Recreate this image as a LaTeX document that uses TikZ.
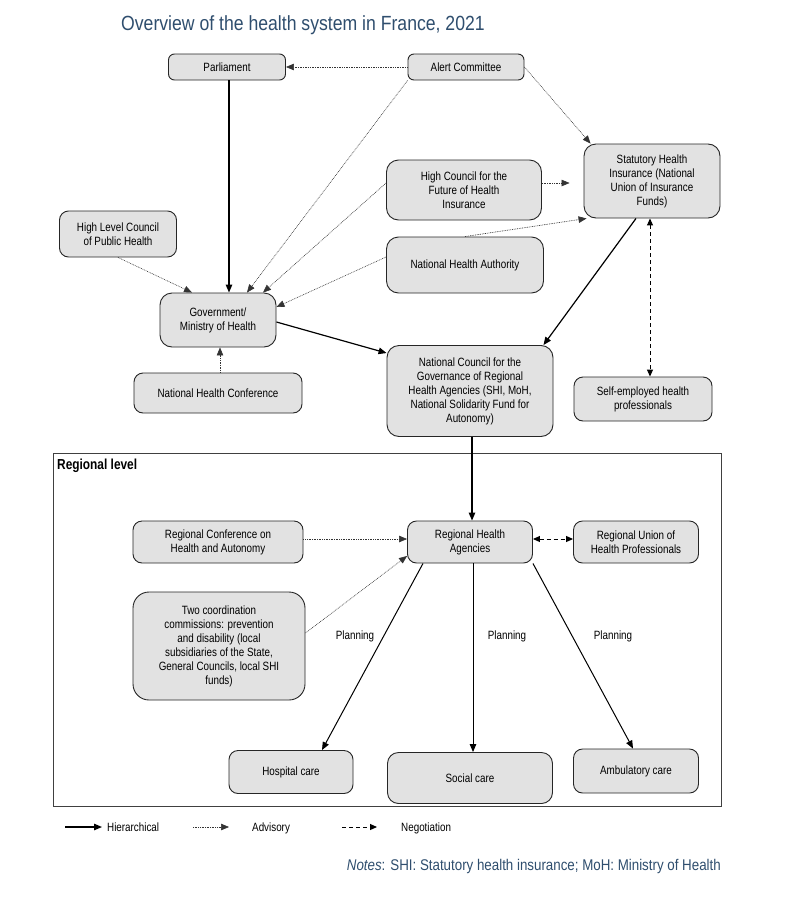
\documentclass[tikz,border=0pt]{standalone}
\usepackage{fontspec}
\setmainfont{Liberation Sans}[FakeStretch=0.82]
\newfontfamily\titlefont{Liberation Sans}[FakeStretch=0.86]
\usetikzlibrary{arrows.meta,calc}
\definecolor{boxfill}{HTML}{E2E2E2}
\definecolor{titleblue}{HTML}{2F4E6E}
\tikzset{
  box/.style={draw=black!85, fill=boxfill, rounded corners=6pt, line width=0.9pt,
    align=center, inner sep=0pt, font=\fontsize{12}{14}\selectfont},
  bigbox/.style={box, rounded corners=12pt},
  lbl/.style={inner sep=0pt, font=\fontsize{12}{14}\selectfont},
  hier/.style={line width=1.2pt, draw=black, -{Triangle[length=8pt,width=6.5pt]}},
  adv/.style={line width=0.6pt, draw=black!80, dash pattern=on 0.8pt off 0.9pt,
    -{Triangle[length=8pt,width=6.5pt]}},
  neg/.style={line width=1pt, draw=black, dash pattern=on 4pt off 3pt,
    -{Triangle[length=7pt,width=6pt]}},
  negboth/.style={neg, {Triangle[length=7pt,width=6pt]}-{Triangle[length=7pt,width=6pt]}},
}
\begin{document}
\begin{tikzpicture}[x=1pt,y=-1pt]
\useasboundingbox (0,0) rectangle (790,910);
\fill[white] (0,0) rectangle (790,910);

% title
\node[anchor=west, inner sep=0pt, text=titleblue, font=\titlefont\fontsize{20.5}{24}\selectfont] (title) at (121,25) {Overview of the health system in France, 2021};

% regional frame
\node[draw=black!75, line width=1pt, minimum width=668, minimum height=353, anchor=north west, inner sep=0pt] (region) at (53,453) {};
\node[anchor=west, inner sep=0pt, font=\bfseries\fontsize{14.5}{16}\selectfont] (reglbl) at (57,466) {Regional level};

% national level boxes
\node[box, minimum width=117, minimum height=26] (parl) at (227,67) {Parliament};
\node[box, minimum width=116, minimum height=26] (alert) at (466,67) {Alert Committee};
\node[bigbox, minimum width=136, minimum height=74] (shi) at (652,181) {Statutory Health\\Insurance (National\\Union of Insurance\\Funds)};
\node[bigbox, minimum width=155, minimum height=60] (hcfhi) at (464,190) {High Council for the\\Future of Health\\Insurance};
\node[bigbox, minimum width=157, minimum height=56] (nha) at (465,265) {National Health Authority};
\node[box, rounded corners=9pt, minimum width=117, minimum height=46] (hlcph) at (118,234) {High Level Council\\of Public Health};
\node[bigbox, minimum width=116, minimum height=54] (gov) at (218,320) {Government/\\Ministry of Health};
\node[box, rounded corners=9pt, minimum width=168, minimum height=40] (nhc) at (218,393) {National Health Conference};
\node[bigbox, minimum width=166, minimum height=91] (ncg) at (470,391) {National Council for the\\Governance of Regional\\Health Agencies (SHI, MoH,\\National Solidarity Fund for\\Autonomy)};
\node[box, rounded corners=9pt, minimum width=138, minimum height=44] (self) at (643,399) {Self-employed health\\professionals};

% regional level boxes
\node[box, rounded corners=9pt, minimum width=125, minimum height=42] (rha) at (470,542) {Regional Health\\Agencies};
\node[box, rounded corners=9pt, minimum width=170, minimum height=42] (rcha) at (218,542) {Regional Conference on\\Health and Autonomy};
\node[box, rounded corners=9pt, minimum width=125, minimum height=42] (ruhp) at (636,542) {Regional Union of\\Health Professionals};
\node[box, rounded corners=16pt, minimum width=172, minimum height=108] (tcc) at (219,646) {Two coordination\\commissions: prevention\\and disability (local\\subsidiaries of the State,\\General Councils, local SHI\\funds)};
\node[box, rounded corners=9pt, minimum width=124, minimum height=43] (hosp) at (291,772) {Hospital care};
\node[box, rounded corners=11pt, minimum width=165, minimum height=51] (social) at (470,778) {Social care};
\node[box, rounded corners=9pt, minimum width=125, minimum height=44] (amb) at (636,771) {Ambulatory care};

% planning labels
\node[lbl] (pl1) at (355,636) {Planning};
\node[lbl] (pl2) at (507,636) {Planning};
\node[lbl] (pl3) at (613,636) {Planning};

% connectors - national
\draw[adv] (alert.west) -- (parl.east);
\draw[adv] (alert.east) -- ([xshift=7pt]shi.north west);
\draw[adv] (alert.south west) -- ([xshift=29pt]gov.north);
\draw[adv] ([yshift=7pt]hcfhi.west) -- ([xshift=45pt]gov.north);
\draw[adv, shorten >=14pt] ([yshift=7pt]hcfhi.east) -- ([yshift=7pt]hcfhi.east -| shi.west);
\draw[adv] (nha.north) -- ([xshift=3pt]shi.south west);
\draw[adv] ([yshift=8pt]nha.west) -- ([yshift=13pt]gov.east);
\draw[adv] (hlcph.south) -- ([xshift=-26pt]gov.north);
\draw[adv] ([xshift=2pt]nhc.north) -- ([xshift=2pt]gov.south);
\draw[hier] ([xshift=2pt]parl.south) -- ([xshift=2pt]parl.south |- gov.north);
\draw[hier] ([yshift=-2pt]gov.east) -- ([yshift=-8pt]ncg.north west);
\draw[hier] ([xshift=-16pt]shi.south) -- ([xshift=-10pt]ncg.north east);
\draw[negboth] ([xshift=-2pt]shi.south) -- ([xshift=-2pt]shi.south |- self.north);

% connectors - regional
\draw[hier] ([xshift=2pt]ncg.south) -- ([xshift=2pt]rha.north);
\draw[adv] ([yshift=3pt]rcha.east) -- ([yshift=3pt]rha.west);
\draw[adv] ([yshift=13pt]tcc.east) -- ([yshift=-14pt]rha.west);
\draw[negboth] ([yshift=3pt]rha.east) -- ([yshift=3pt]ruhp.west);
\draw[hier, line width=1pt] ([xshift=-47pt]rha.south) -- ([xshift=31pt]hosp.north);
\draw[hier, line width=1pt] ([xshift=3pt]rha.south) -- ([xshift=3pt]social.north);
\draw[hier, line width=1pt] (rha.south east) -- ([xshift=-3pt]amb.north);

% legend
\coordinate (lh1) at (65,827);
\coordinate (lh2) at (102,827);
\coordinate (la1) at (193,827);
\coordinate (la2) at (229,827);
\coordinate (ln1) at (342,827);
\coordinate (ln2) at (377,827);
\draw[hier] (lh1) -- (lh2);
\draw[adv] (la1) -- (la2);
\draw[neg] (ln1) -- (ln2);
\node[lbl, anchor=base west] (lgh) at (107,831.5) {Hierarchical};
\node[lbl, anchor=base west] (lga) at (252,831.5) {Advisory};
\node[lbl, anchor=base west] (lgn) at (401,831.5) {Negotiation};

% notes
\node[anchor=east, inner sep=0pt, text=titleblue, font=\titlefont\fontsize{15.5}{18}\selectfont] (notes) at (721,866) {\textit{Notes}: SHI: Statutory health insurance; MoH: Ministry of Health};
\end{tikzpicture}
\end{document}
